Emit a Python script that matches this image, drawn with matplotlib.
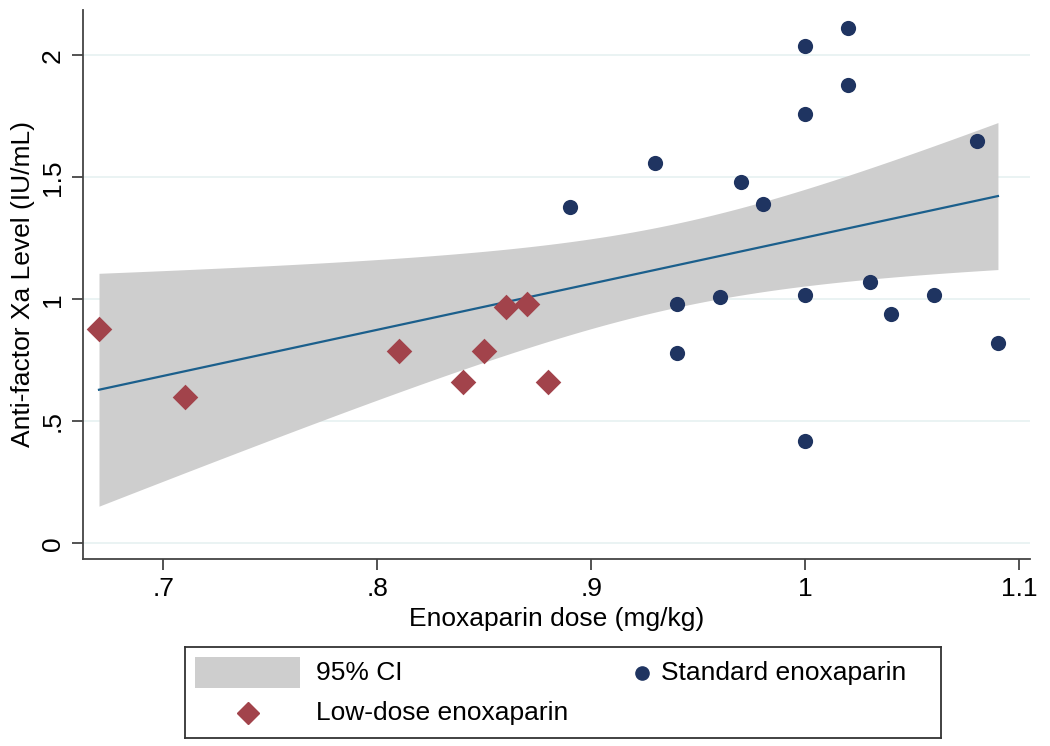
import matplotlib
matplotlib.use("Agg")
import matplotlib.pyplot as plt
import numpy as np
from matplotlib.patches import Rectangle

plt.rcParams['font.family'] = ['Liberation Sans', 'DejaVu Sans']

# standard enoxaparin group
std_dose = [0.89, 0.93, 0.97, 0.98, 1.00, 1.00, 1.00, 1.00, 1.02, 1.02,
            1.08, 0.94, 0.94, 0.96, 1.03, 1.04, 1.06, 1.09]
std_xa = [1.38, 1.56, 1.48, 1.39, 2.04, 1.76, 1.02, 0.42, 2.11, 1.88,
          1.65, 0.98, 0.78, 1.01, 1.07, 0.94, 1.02, 0.82]

# low-dose enoxaparin group
low_dose = [0.67, 0.71, 0.81, 0.84, 0.85, 0.86, 0.87, 0.88]
low_xa = [0.88, 0.60, 0.79, 0.66, 0.79, 0.97, 0.98, 0.66]

xticks = [0.7, 0.8, 0.9, 1.0, 1.1]
xtick_labels = ['.7', '.8', '.9', '1', '1.1']
yticks = [0, 0.5, 1, 1.5, 2]
ytick_labels = ['0', '.5', '1', '1.5', '2']

# linear fit + 95% CI of the mean (all points)
x = np.array(std_dose + low_dose)
y = np.array(std_xa + low_xa)
n = len(x)
b1, b0 = np.polyfit(x, y, 1)
resid = y - (b0 + b1 * x)
s = np.sqrt(np.sum(resid**2) / (n - 2))
sxx = np.sum((x - x.mean())**2)
t = 2.0639  # t(0.975, 24)
xf = np.linspace(x.min(), x.max(), 200)
yf = b0 + b1 * xf
se = s * np.sqrt(1 / n + (xf - x.mean())**2 / sxx)

fs = 19
fig = plt.figure(figsize=(10.5, 7.46), dpi=100)
ax = fig.add_axes([0.079, 0.2507, 0.902, 0.736])

ci_col = '#cecece'
navy = '#1f3461'
maroon = '#a2434b'

ax.set_axisbelow(True)
ax.fill_between(xf, yf - t * se, yf + t * se, color=ci_col, lw=0, zorder=1)
ax.plot(xf, yf, color='#1b5f8c', lw=1.6, zorder=2)
ax.scatter(std_dose, std_xa, s=120, color=navy, marker='o', lw=0, zorder=3)
ax.scatter(low_dose, low_xa, s=170, color=maroon, marker='D', lw=0, zorder=3)

ax.set_xlim(0.6625, 1.105)
ax.set_ylim(-0.0635, 2.186)
ax.set_xticks(xticks)
ax.set_xticklabels(xtick_labels)
ax.set_yticks(yticks)
ax.set_yticklabels(ytick_labels, rotation=90, va='center')
ax.tick_params(axis='both', labelsize=fs, length=8, width=1.3, color='#444444', pad=5)
ax.grid(axis='y', color='#e8f2f2', lw=1.3, zorder=0)
for side in ['top', 'right']:
    ax.spines[side].set_visible(False)
for side in ['left', 'bottom']:
    ax.spines[side].set_linewidth(1.3)
    ax.spines[side].set_color('#444444')

ax.set_xlabel('Enoxaparin dose (mg/kg)', fontsize=fs, labelpad=4)
ax.set_ylabel('Anti-factor Xa Level (IU/mL)', fontsize=fs, labelpad=4)

# legend box drawn in its own axes, pixel-like units
lax = fig.add_axes([185 / 1050, 1 - 738 / 746, 756 / 1050, 91 / 746])
lax.set_xlim(0, 756)
lax.set_ylim(91, 0)
lax.set_xticks([])
lax.set_yticks([])
for sp in lax.spines.values():
    sp.set_linewidth(1.3)
    sp.set_color('#333333')
lax.add_patch(Rectangle((10, 10), 105, 31, facecolor=ci_col, edgecolor='none'))
lax.text(131, 26, '95% CI', fontsize=fs, va='center', ha='left')
lax.plot([457], [26], marker='o', color=navy, ms=9.5, ls='none')
lax.text(476, 26, 'Standard enoxaparin', fontsize=fs, va='center', ha='left')
lax.plot([63], [66], marker='D', color=maroon, ms=11, ls='none')
lax.text(131, 66, 'Low-dose enoxaparin', fontsize=fs, va='center', ha='left')

fig.savefig('out.png', dpi=100)
